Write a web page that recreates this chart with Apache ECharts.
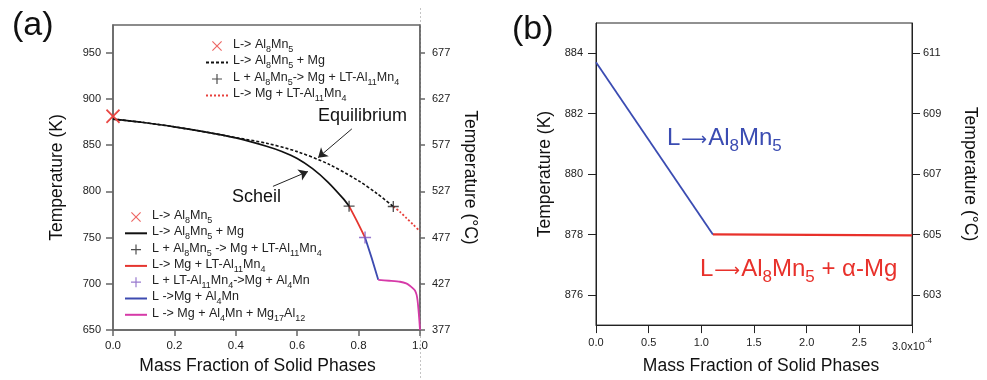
<!DOCTYPE html>
<html>
<head>
<meta charset="utf-8">
<script src="https://cdn.jsdelivr.net/npm/echarts@6/dist/echarts.min.js"></script>
<style>
html, body { margin: 0; padding: 0; background: #fff; }
#main { width: 987px; height: 380px; }
</style>
</head>
<body>
<div id="main"></div>
<script>
// ---- panel (a) data ----
// equilibrium: L -> Al8Mn5 + Mg (dashed)
var eqX = [0, 0.1, 0.2, 0.3, 0.4, 0.5, 0.6, 0.7, 0.8, 0.86, 0.913];
var eqT = [878.2, 874.5, 869.8, 864.3, 858.1, 852.1, 843, 829.8, 811.4, 797.6, 783.6];
// equilibrium: L -> Mg + LT-Al11Mn4 (red dotted)
var eqRedX = [0.913, 0.935, 0.956, 0.978, 1.0];
var eqRedT = [783.6, 777.8, 771, 764, 756.5];
// scheil: L -> Al8Mn5 + Mg
var shX = [0, 0.1, 0.2, 0.3, 0.4, 0.5, 0.55, 0.6, 0.65, 0.7, 0.75, 0.769];
var shT = [878.2, 874.5, 869.8, 864.3, 857.8, 848.8, 843.1, 835.6, 824.6, 810.1, 792.1, 784];
// scheil: L -> Mg + LT-Al11Mn4
var shRedX = [0.769, 0.795, 0.821];
var shRedT = [784, 767.5, 750];
// scheil: L -> Mg + Al4Mn
var shBlueX = [0.821, 0.843, 0.864];
var shBlueT = [750, 727.5, 704.3];
// scheil: L -> Mg + Al4Mn + Mg17Al12
var shMagX = [0.864, 0.9, 0.935, 0.955, 0.967, 0.977, 0.984, 0.989, 0.992, 0.995, 0.997, 0.999, 1.0];
var shMagT = [704.3, 703.3, 702.2, 700.5, 697.9, 695, 692.5, 688, 682, 672, 664, 655, 650];
// invariant points
var startX = [0], startT = [881.5];
var eqPlusX = [0.913], eqPlusT = [783.6];
var shPlusX = [0.769], shPlusT = [784];
var shPurpleX = [0.821], shPurpleT = [750];
// arrows (from text to curve)
var eqArrow = [[0.778, 867.6], [0.668, 836.5]];
var shArrow = [[0.521, 805.4], [0.635, 821.5]];

// ---- panel (b) data (x in units of 1e-4) ----
var bBlueX = [0, 1.11], bBlueT = [883.7, 878.0];
var bRedX = [1.11, 3.0], bRedT = [878.0, 877.97];

var aKTicks = [650, 700, 750, 800, 850, 900, 950];
var aCTicks = [377, 427, 477, 527, 577, 627, 677];
var bKTicks = [876, 878, 880, 882, 884];
var bCTicks = [603, 605, 607, 609, 611];

function zip(xs, ys) {
    var out = [];
    for (var i = 0; i < xs.length; i++) out.push([xs[i], ys[i]]);
    return out;
}

var FONT = '"Liberation Sans", Arial, sans-serif';
var PLUS = 'path://M44,0H56V44H100V56H56V100H44V56H0V44H44Z';
var CROSS = 'path://M0,8L8,0L50,42L92,0L100,8L58,50L100,92L92,100L50,58L8,100L0,92L42,50Z';

// legend labels with subscripts
var labels = {
    'Eq L->Al8Mn5': '{n|L-> Al}{s|8}{n|Mn}{s|5}',
    'Eq L->Al8Mn5+Mg': '{n|L-> Al}{s|8}{n|Mn}{s|5}{n| + Mg}',
    'Eq peritectic': '{n|L + Al}{s|8}{n|Mn}{s|5}{n|-> Mg + LT-Al}{s|11}{n|Mn}{s|4}',
    'Eq L->Mg+LT': '{n|L-> Mg + LT-Al}{s|11}{n|Mn}{s|4}',
    'Sh L->Al8Mn5': '{n|L-> Al}{s|8}{n|Mn}{s|5}',
    'Sh L->Al8Mn5+Mg': '{n|L-> Al}{s|8}{n|Mn}{s|5}{n| + Mg}',
    'Sh peritectic 1': '{n|L + Al}{s|8}{n|Mn}{s|5}{n| -> Mg + LT-Al}{s|11}{n|Mn}{s|4}',
    'Sh L->Mg+LT': '{n|L-> Mg + LT-Al}{s|11}{n|Mn}{s|4}',
    'Sh peritectic 2': '{n|L + LT-Al}{s|11}{n|Mn}{s|4}{n|->Mg + Al}{s|4}{n|Mn}',
    'Sh L->Mg+Al4Mn': '{n|L ->Mg + Al}{s|4}{n|Mn}',
    'Sh eutectic': '{n|L -> Mg + Al}{s|4}{n|Mn + Mg}{s|17}{n|Al}{s|12}'
};
var legendRich = {
    n: { fontSize: 12.5, lineHeight: 16, verticalAlign: 'top', color: '#222', fontFamily: FONT },
    s: { fontSize: 9, lineHeight: 9, verticalAlign: 'top', padding: [7, 0, 0, 0], color: '#222', fontFamily: FONT }
};
// line entries: hide the default circle drawn on the legend line
function lineItem(name) {
    return { name: name, itemStyle: { opacity: 0 } };
}

function bLabelRich(color) {
    return {
        m: { fontSize: 24, lineHeight: 24, verticalAlign: 'top', fill: color, fontFamily: FONT },
        a: { fontSize: 18, lineHeight: 18, verticalAlign: 'top', padding: [5, 1, 0, 1], fill: color, fontFamily: '"DejaVu Sans"' },
        t: { fontSize: 17, lineHeight: 17, verticalAlign: 'top', padding: [12, 0, 0, 0], fill: color, fontFamily: FONT }
    };
}

var aAxisColor = '#666';
var chart = echarts.init(document.getElementById('main'));

var option = {
    animation: false,
    textStyle: { fontFamily: FONT },
    grid: [
        { left: 113, top: 25, width: 307, height: 308, show: true, borderColor: aAxisColor, borderWidth: 1.5 },
        { left: 596, top: 23, width: 316, height: 311, show: true, borderColor: '#222', borderWidth: 1 }
    ],
    legend: [
        {
            orient: 'vertical', left: 200, top: 33, itemWidth: 22, itemHeight: 10, itemGap: 0.5,
            selectedMode: false,
            data: ['Eq L->Al8Mn5', lineItem('Eq L->Al8Mn5+Mg'), 'Eq peritectic', lineItem('Eq L->Mg+LT')],
            formatter: function (name) { return labels[name]; },
            textStyle: { rich: legendRich }
        },
        {
            orient: 'vertical', left: 119, top: 204, itemWidth: 22, itemHeight: 10, itemGap: 0.3,
            selectedMode: false,
            data: ['Sh L->Al8Mn5', lineItem('Sh L->Al8Mn5+Mg'), 'Sh peritectic 1', lineItem('Sh L->Mg+LT'),
                   'Sh peritectic 2', lineItem('Sh L->Mg+Al4Mn'), lineItem('Sh eutectic')],
            formatter: function (name) { return labels[name]; },
            textStyle: { rich: legendRich }
        }
    ],
    xAxis: [
        {
            gridIndex: 0, type: 'value', min: 0, max: 1, interval: 0.2,
            name: 'Mass Fraction of Solid Phases', nameLocation: 'middle', nameGap: 27,
            nameTextStyle: { fontSize: 17.5, color: '#111', padding: [0, 18, 0, 0] },
            axisLine: { lineStyle: { color: aAxisColor, width: 1.5 } },
            axisTick: { length: 6, lineStyle: { color: aAxisColor, width: 1.5 } },
            axisLabel: { fontSize: 11.5, color: '#222', margin: 10, formatter: function (v) { return v.toFixed(1); } },
            splitLine: { show: false }
        },
        {
            gridIndex: 1, type: 'value', min: 0, max: 3, interval: 0.5,
            name: 'Mass Fraction of Solid Phases', nameLocation: 'middle', nameGap: 29,
            nameTextStyle: { fontSize: 17.5, color: '#111', padding: [0, 0, 0, 14] },
            axisLine: { lineStyle: { color: '#222', width: 1 } },
            axisTick: { length: 8, lineStyle: { color: '#222', width: 1 } },
            axisLabel: {
                fontSize: 11, color: '#222', margin: 12,
                formatter: function (v) {
                    if (v === 3) return '{m|3.0x10}{e|-4}';
                    return v.toFixed(1);
                },
                rich: {
                    m: { fontSize: 11, lineHeight: 13, verticalAlign: 'top', padding: [4, 0, 0, 0], color: '#222' },
                    e: { fontSize: 8, lineHeight: 8, verticalAlign: 'top', color: '#222' }
                }
            },
            splitLine: { show: false }
        }
    ],
    yAxis: [
        {
            gridIndex: 0, type: 'value', min: 650, max: 980, position: 'left',
            name: 'Temperature (K)', nameLocation: 'middle', nameGap: 47,
            nameTextStyle: { fontSize: 17.5, color: '#111' },
            axisLine: { lineStyle: { color: aAxisColor, width: 1.5 } },
            axisTick: { length: 7, customValues: aKTicks, lineStyle: { color: aAxisColor, width: 1.5 } },
            axisLabel: { fontSize: 11, color: '#222', margin: 12, customValues: aKTicks },
            splitLine: { show: false }
        },
        {
            gridIndex: 0, type: 'value', min: 377, max: 707, position: 'right',
            name: 'Temperature (°C)', nameLocation: 'middle', nameGap: 41, nameRotate: -90,
            nameTextStyle: { fontSize: 17.5, color: '#111' },
            axisLine: { lineStyle: { color: aAxisColor, width: 1.5 } },
            axisTick: { length: 5, customValues: aCTicks, lineStyle: { color: aAxisColor, width: 1.5 } },
            axisLabel: { fontSize: 11, color: '#222', margin: 12, customValues: aCTicks },
            splitLine: { show: false }
        },
        {
            gridIndex: 1, type: 'value', min: 875, max: 885, position: 'left',
            name: 'Temperature (K)', nameLocation: 'middle', nameGap: 42,
            nameTextStyle: { fontSize: 17.5, color: '#111' },
            axisLine: { lineStyle: { color: '#222', width: 1 } },
            axisTick: { length: 8, customValues: bKTicks, lineStyle: { color: '#222' } },
            axisLabel: { fontSize: 11, color: '#222', margin: 13, customValues: bKTicks },
            splitLine: { show: false }
        },
        {
            gridIndex: 1, type: 'value', min: 602, max: 612, position: 'right',
            name: 'Temperature (°C)', nameLocation: 'middle', nameGap: 49, nameRotate: -90,
            nameTextStyle: { fontSize: 17.5, color: '#111' },
            axisLine: { lineStyle: { color: '#222', width: 1 } },
            axisTick: { length: 8, customValues: bCTicks, lineStyle: { color: '#222' } },
            axisLabel: { fontSize: 11, color: '#222', margin: 11, customValues: bCTicks },
            splitLine: { show: false }
        }
    ],
    series: [
        // ----- equilibrium (a) -----
        {
            name: 'Eq L->Al8Mn5', type: 'scatter', xAxisIndex: 0, yAxisIndex: 0,
            symbol: CROSS, symbolSize: 14, itemStyle: { color: '#e8403c' },
            data: zip(startX, startT), z: 5
        },
        {
            name: 'Eq L->Al8Mn5+Mg', type: 'line', xAxisIndex: 0, yAxisIndex: 0,
            symbol: 'none', smooth: 0.3, color: '#111',
            lineStyle: { color: '#111', width: 1.6, type: [3, 2] },
            data: zip(eqX, eqT),
            markLine: {
                silent: true, symbol: ['none', 'arrow'], symbolSize: 9,
                label: { show: false },
                lineStyle: { color: '#222', width: 1, type: 'solid' },
                data: [[{ coord: eqArrow[0] }, { coord: eqArrow[1] }]]
            }
        },
        {
            name: 'Eq peritectic', type: 'scatter', xAxisIndex: 0, yAxisIndex: 0,
            symbol: PLUS, symbolSize: 11, itemStyle: { color: '#222' },
            data: zip(eqPlusX, eqPlusT), z: 5
        },
        {
            name: 'Eq L->Mg+LT', type: 'line', xAxisIndex: 0, yAxisIndex: 0,
            symbol: 'none', smooth: 0.3, color: '#e8403c',
            lineStyle: { color: '#e8403c', width: 1.8, type: [2, 2] },
            data: zip(eqRedX, eqRedT)
        },
        // ----- scheil (a) -----
        {
            name: 'Sh L->Al8Mn5', type: 'scatter', xAxisIndex: 0, yAxisIndex: 0,
            symbol: CROSS, symbolSize: 14, itemStyle: { color: '#e8403c' },
            data: zip(startX, [881]), z: 5
        },
        {
            name: 'Sh L->Al8Mn5+Mg', type: 'line', xAxisIndex: 0, yAxisIndex: 0,
            symbol: 'none', smooth: 0.3, color: '#111',
            lineStyle: { color: '#111', width: 1.7 },
            data: zip(shX, shT),
            markLine: {
                silent: true, symbol: ['none', 'arrow'], symbolSize: 9,
                label: { show: false },
                lineStyle: { color: '#222', width: 1, type: 'solid' },
                data: [[{ coord: shArrow[0] }, { coord: shArrow[1] }]]
            }
        },
        {
            name: 'Sh peritectic 1', type: 'scatter', xAxisIndex: 0, yAxisIndex: 0,
            symbol: PLUS, symbolSize: 11, itemStyle: { color: '#222' },
            data: zip(shPlusX, shPlusT), z: 5
        },
        {
            name: 'Sh L->Mg+LT', type: 'line', xAxisIndex: 0, yAxisIndex: 0,
            symbol: 'none', smooth: 0.3, color: '#e5352f',
            lineStyle: { color: '#e5352f', width: 1.8 },
            data: zip(shRedX, shRedT)
        },
        {
            name: 'Sh peritectic 2', type: 'scatter', xAxisIndex: 0, yAxisIndex: 0,
            symbol: PLUS, symbolSize: 12, itemStyle: { color: '#7e57c2' },
            data: zip(shPurpleX, shPurpleT), z: 5
        },
        {
            name: 'Sh L->Mg+Al4Mn', type: 'line', xAxisIndex: 0, yAxisIndex: 0,
            symbol: 'none', color: '#3d4bb0',
            lineStyle: { color: '#3d4bb0', width: 1.8 },
            data: zip(shBlueX, shBlueT)
        },
        {
            name: 'Sh eutectic', type: 'line', xAxisIndex: 0, yAxisIndex: 0,
            symbol: 'none', smooth: 0.2, color: '#d63aa8',
            lineStyle: { color: '#d63aa8', width: 1.8 },
            data: zip(shMagX, shMagT)
        },
        // ----- panel (b) -----
        {
            name: 'b L->Al8Mn5', type: 'line', xAxisIndex: 1, yAxisIndex: 2,
            symbol: 'none', lineStyle: { color: '#3b4cb2', width: 1.8 },
            data: zip(bBlueX, bBlueT)
        },
        {
            name: 'b L->Al8Mn5+Mg', type: 'line', xAxisIndex: 1, yAxisIndex: 2,
            symbol: 'none', lineStyle: { color: '#e8312b', width: 2.2 },
            data: zip(bRedX, bRedT)
        }
    ],
    graphic: [
        {
            type: 'line', z: 0, silent: true,
            shape: { x1: 420.5, y1: 8, x2: 420.5, y2: 380 },
            style: { stroke: '#c4c4c4', lineWidth: 1, lineDash: [2, 2] }
        },
        { type: 'text', left: 12, top: 9, style: { text: '(a)', font: '34px ' + FONT, fill: '#111' } },
        { type: 'text', left: 512, top: 13, style: { text: '(b)', font: '34px ' + FONT, fill: '#111' } },
        { type: 'text', left: 318, top: 107, style: { text: 'Equilibrium', font: '18px ' + FONT, fill: '#111' } },
        { type: 'text', left: 232, top: 188, style: { text: 'Scheil', font: '18px ' + FONT, fill: '#111' } },
        {
            type: 'text', left: 667, top: 126,
            style: { text: '{m|L}{a|⟶}{m|Al}{t|8}{m|Mn}{t|5}', rich: bLabelRich('#3b4cb2') }
        },
        {
            type: 'text', left: 700, top: 257,
            style: { text: '{m|L}{a|⟶}{m|Al}{t|8}{m|Mn}{t|5}{m| + α-Mg}', rich: bLabelRich('#e8312b') }
        }
    ]
};

chart.setOption(option);
window.onresize = chart.resize;
</script>
</body>
</html>
